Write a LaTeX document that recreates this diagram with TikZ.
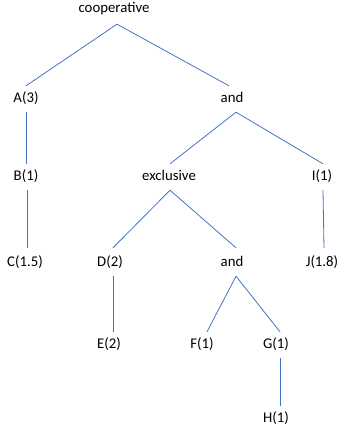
\documentclass[tikz,border=0pt]{standalone}
\usepackage{fontspec}
\setmainfont{Carlito}
\definecolor{linkblue}{RGB}{68,114,196}
\begin{document}
\begin{tikzpicture}[x=1pt,y=-1pt,
  lbl/.style={inner sep=0pt,minimum height=26pt,font=\fontsize{14.8}{17}\selectfont,text height=10.5pt,text depth=3.5pt},
  link/.style={draw=linkblue,line width=0.8pt}]
\useasboundingbox (0,0) rectangle (339,431);
\node[lbl] (coop) at (114,9) {cooperative};
\node[lbl] (A) at (26,99) {A(3)};
\node[lbl] (and1) at (232,99) {and};
\node[lbl] (B) at (26,177) {B(1)};
\node[lbl] (excl) at (169,177) {exclusive};
\node[lbl] (I) at (322,177) {I(1)};
\node[lbl] (C) at (25,263) {C(1.5)};
\node[lbl] (D) at (110,263) {D(2)};
\node[lbl] (and2) at (232,263) {and};
\node[lbl] (J) at (322,263) {J(1.8)};
\node[lbl] (E) at (109,345) {E(2)};
\node[lbl] (F) at (202,345) {F(1)};
\node[lbl] (G) at (276,345) {G(1)};
\node[lbl] (H) at (276,419) {H(1)};
\draw[link] ([xshift=3pt,yshift=-2pt]coop.south) -- (A.north);
\draw[link] ([xshift=3pt,yshift=-2pt]coop.south) -- ([xshift=-3pt]and1.north);
\draw[link] (A.south) -- (B.north);
\draw[link] ([xshift=4pt]and1.south) -- ([xshift=1pt]excl.north);
\draw[link] ([xshift=4pt]and1.south) -- ([xshift=1pt]I.north);
\draw[link] ([xshift=1pt]excl.south) -- ([xshift=3pt,yshift=2pt]D.north);
\draw[link] ([xshift=1pt]excl.south) -- ([xshift=4pt,yshift=2pt]and2.north);
\draw[link] ([xshift=1pt]I.south) -- ([xshift=2pt,yshift=2pt]J.north);
\draw[link] ([xshift=1pt]B.south) -- ([xshift=2pt,yshift=2pt]C.north);
\draw[link] ([xshift=3pt]D.south) -- ([xshift=4pt]E.north);
\draw[link] ([xshift=4pt]and2.south) -- ([xshift=5pt]F.north);
\draw[link] ([xshift=4pt]and2.south) -- ([xshift=4pt]G.north);
\draw[link] ([xshift=4pt]G.south) -- ([xshift=4pt]H.north);
\end{tikzpicture}
\end{document}
